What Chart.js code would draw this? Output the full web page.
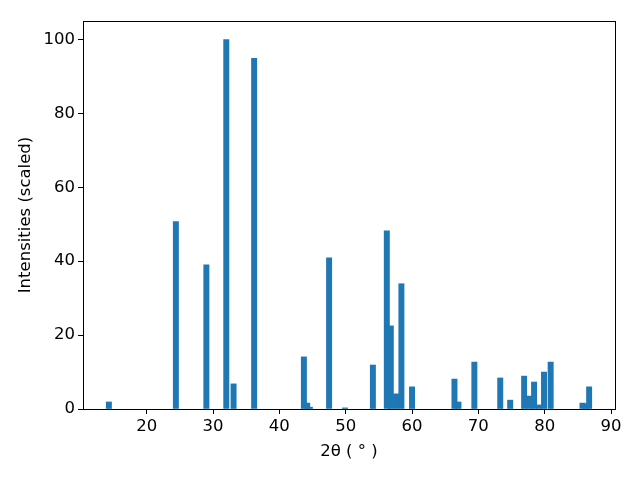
<!DOCTYPE html>
<html>
<head>
<meta charset="utf-8">
<script src="https://cdn.jsdelivr.net/npm/chart.js@4"></script>
<style>
  html, body { margin: 0; padding: 0; background: #fff; }
  #wrap { width: 640px; height: 480px; }
</style>
</head>
<body>
<div id="wrap"><canvas id="grafico" width="640" height="480"></canvas></div>
<script>
// posicoes dos picos (2 theta) e intensidades relativas
const posicoes = [14.3, 24.4, 29.0, 32.0, 33.1, 36.2, 43.7, 44.2, 44.6, 47.5, 49.9, 54.1, 56.2, 56.8, 57.6, 58.4, 60.0, 66.4, 67.0, 69.4, 73.3, 74.8, 76.9, 77.7, 78.4, 79.1, 79.9, 80.9, 85.7, 86.2, 86.7];
const intensidades = [1.9, 50.7, 39.0, 100, 6.8, 94.9, 14.1, 1.6, 0.5, 40.9, 0.3, 11.9, 48.2, 22.5, 4.1, 33.9, 6.0, 8.1, 1.9, 12.7, 8.4, 2.4, 8.9, 3.5, 7.3, 1.1, 10.0, 12.7, 1.6, 1.4, 6.0];
const ticksX = [20, 30, 40, 50, 60, 70, 80, 90];
const ticksY = [0, 20, 40, 60, 80, 100];

const fonte = { family: "DejaVu Sans", size: 16.5 };

// caixa em volta do grafico (estilo matplotlib)
const caixa = {
  id: "caixa",
  afterDraw(chart) {
    const a = chart.chartArea;
    const ctx = chart.ctx;
    ctx.save();
    ctx.strokeStyle = "#000";
    ctx.lineWidth = 1;
    ctx.strokeRect(Math.round(a.left) + 0.5, Math.round(a.top) + 0.5, Math.round(a.right - a.left), Math.round(a.bottom - a.top));
    ctx.restore();
  }
};

new Chart(document.getElementById("grafico"), {
  type: "bar",
  data: {
    datasets: [{
      data: posicoes.map((p, i) => ({ x: p, y: intensidades[i] })),
      backgroundColor: "#1f77b4",
      borderWidth: 0,
      barThickness: 5.3
    }]
  },
  options: {
    responsive: false,
    animation: false,
    layout: { padding: { top: 21, right: 25, left: 0, bottom: 0 } },
    plugins: { legend: { display: false }, tooltip: { enabled: false } },
    scales: {
      x: {
        type: "linear",
        offset: false,
        min: 10.4,
        max: 90.6,
        afterBuildTicks: s => { s.ticks = ticksX.map(v => ({ value: v })); },
        afterFit: s => { s.height = 71; },
        grid: { offset: false, drawOnChartArea: false, drawTicks: true, tickLength: 5, color: "#000" },
        border: { display: false },
        ticks: { color: "#000", font: fonte, padding: 3, maxRotation: 0 },
        title: { display: true, text: "2θ ( ° )", color: "#000", font: fonte, padding: { top: 4, bottom: 18 } }
      },
      y: {
        min: 0,
        max: 105,
        afterBuildTicks: s => { s.ticks = ticksY.map(v => ({ value: v })); },
        afterFit: s => { s.width = 83; },
        grid: { drawOnChartArea: false, drawTicks: true, tickLength: 5, color: "#000" },
        border: { display: false },
        ticks: { color: "#000", font: fonte, padding: 3 },
        title: { display: true, text: "Intensities (scaled)", color: "#000", font: fonte, padding: { top: 16, bottom: 0 } }
      }
    }
  },
  plugins: [caixa]
});
</script>
</body>
</html>
